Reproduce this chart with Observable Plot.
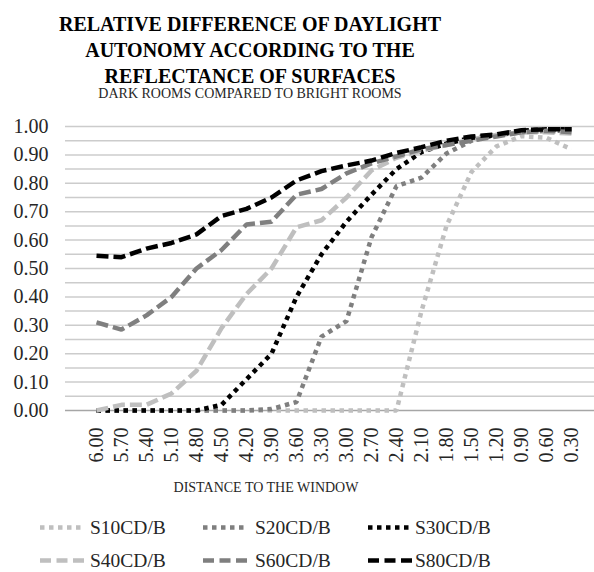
<!DOCTYPE html>
<html>
<head>
<meta charset="utf-8">
<script src="https://cdn.jsdelivr.net/npm/d3@7"></script>
<script src="https://cdn.jsdelivr.net/npm/@observablehq/plot@0.6"></script>
<style>
  html, body { margin: 0; padding: 0; background: #fff; }
  #wrap { position: relative; width: 594px; height: 572px; overflow: hidden; font-family: "Liberation Serif", "Times New Roman", serif; color: #000; }
  #title { position: absolute; left: 0; width: 500px; top: 11px; text-align: center; font-weight: bold; font-size: 20px; line-height: 26px; }
  #subtitle { position: absolute; left: 0; width: 500px; top: 86px; text-align: center; font-size: 14px; line-height: 16px; color: #262626; }
  #chart { position: absolute; left: 0; top: 110px; }
  #xtitle { position: absolute; left: 0; width: 532px; top: 480px; text-align: center; font-size: 14px; line-height: 16px; color: #262626; }
  #legend { position: absolute; left: 0; top: 0; width: 594px; height: 572px; pointer-events: none; }
</style>
</head>
<body>
<div id="wrap">
  <div id="title">RELATIVE DIFFERENCE OF DAYLIGHT<br>AUTONOMY ACCORDING TO THE<br>REFLECTANCE OF SURFACES</div>
  <div id="subtitle">DARK ROOMS COMPARED TO BRIGHT ROOMS</div>
  <div id="chart"></div>
  <div id="xtitle">DISTANCE TO THE WINDOW</div>
  <svg id="legend" width="594" height="572"></svg>
</div>
<script>
// ---- data ----
const distances = ["6.00","5.70","5.40","5.10","4.80","4.50","4.20","3.90","3.60","3.30","3.00","2.70","2.40","2.10","1.80","1.50","1.20","0.90","0.60","0.30"];
const seriesNames = ["S10CD/B","S20CD/B","S30CD/B","S40CD/B","S60CD/B","S80CD/B"];
const s10 = [0,0,0,0,0,0,0,0,0,0,0,0,0,0.35,0.65,0.84,0.93,0.966,0.96,0.92];
const s20 = [0,0,0,0,0,0,0,0.005,0.03,0.26,0.315,0.61,0.79,0.82,0.905,0.95,0.97,0.98,0.985,0.985];
const s30 = [0,0,0,0,0,0.02,0.11,0.20,0.40,0.55,0.665,0.76,0.85,0.91,0.94,0.96,0.97,0.985,0.99,0.99];
const s40 = [0,0.02,0.02,0.06,0.14,0.29,0.41,0.50,0.645,0.67,0.75,0.845,0.89,0.915,0.935,0.955,0.97,0.98,0.98,0.975];
const s60 = [0.31,0.285,0.335,0.40,0.50,0.565,0.655,0.665,0.76,0.78,0.835,0.87,0.895,0.92,0.935,0.95,0.965,0.98,0.985,0.98];
const s80 = [0.545,0.54,0.57,0.59,0.62,0.685,0.71,0.75,0.81,0.843,0.863,0.88,0.907,0.927,0.95,0.965,0.972,0.987,0.99,0.99];
const yTicks = [0,0.1,0.2,0.3,0.4,0.5,0.6,0.7,0.8,0.9,1.0];
const gridValues = [0.05,0.1,0.15,0.2,0.25,0.3,0.35,0.4,0.45,0.5,0.55,0.6,0.65,0.7,0.75,0.8,0.85,0.9,0.95,1.0];

// ---- styles ----
const seriesValues = [s10, s20, s30, s40, s60, s80];
const colors = ["#bfbfbf","#7f7f7f","#000000","#bfbfbf","#7f7f7f","#000000"];
const dotted = "4.5,4.5";
const dashed = "12,5";
const dashes = [dotted, dotted, dotted, dashed, dashed, dashed];

const rows = [];
seriesNames.forEach((name, si) => {
  seriesValues[si].forEach((v, i) => rows.push({series: name, distance: distances[i], value: v}));
});

const chart = Plot.plot({
  width: 594,
  height: 360,
  marginLeft: 65,
  marginRight: 0,
  marginTop: 16,
  marginBottom: 60,
  style: {fontFamily: "'Liberation Serif', 'Times New Roman', serif", fontSize: "20px", background: "transparent", color: "#262626"},
  x: {type: "point", domain: distances, range: [82, 585.5], label: null},
  y: {domain: [0, 1], label: null},
  marks: [
    Plot.ruleY(gridValues, {stroke: "#cccccc", strokeWidth: 1.5}),
    Plot.ruleY([0], {stroke: "#a6a6a6", strokeWidth: 1.5}),
    Plot.axisY({ticks: yTicks, tickFormat: d3.format(".2f"), tickSize: 0, tickPadding: 17, label: null}),
    Plot.axisX({tickRotate: -90, tickSize: 0, tickPadding: 17, label: null}),
    ...seriesNames.map((name, si) => Plot.line(rows.filter(d => d.series === name), {
      x: "distance", y: "value",
      stroke: colors[si], strokeWidth: 4.5, strokeDasharray: dashes[si], strokeLinecap: "butt", strokeLinejoin: "miter"
    }))
  ]
});
document.getElementById("chart").appendChild(chart);

// ---- legend ----
const legend = d3.select("#legend");
const colSwatch = [40, 203, 368];
const colText = [90, 255, 415];
const rowBase = [534, 567];
seriesNames.forEach((name, si) => {
  const c = si % 3, r = Math.floor(si / 3);
  const yMid = rowBase[r] - 6.5;
  legend.append("line")
    .attr("x1", colSwatch[c]).attr("x2", colSwatch[c] + 44)
    .attr("y1", yMid).attr("y2", yMid)
    .attr("stroke", colors[si]).attr("stroke-width", 4.5)
    .attr("stroke-dasharray", si < 3 ? dotted : "11,5.5");
  legend.append("text")
    .attr("x", colText[c]).attr("y", rowBase[r])
    .attr("font-family", "'Liberation Serif', 'Times New Roman', serif")
    .attr("font-size", 19.5).attr("fill", "#262626")
    .text(name);
});
</script>
</body>
</html>
